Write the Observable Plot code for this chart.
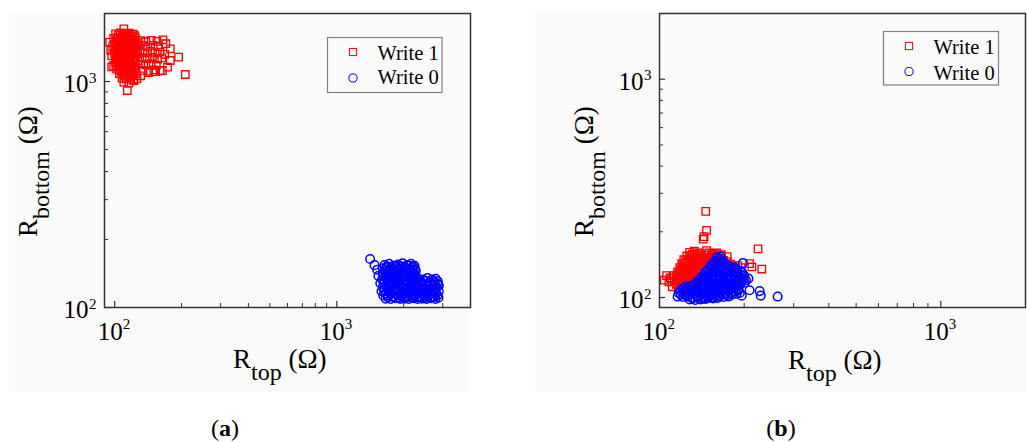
<!DOCTYPE html>
<html>
<head>
<meta charset="utf-8">
<script src="https://cdn.jsdelivr.net/npm/d3@7"></script>
<script src="https://cdn.jsdelivr.net/npm/@observablehq/plot@0.6"></script>
<style>
  html, body { margin: 0; padding: 0; background: #fff; }
  #fig { position: relative; width: 1027px; height: 443px; overflow: hidden; }
  .panel { position: absolute; background: #fafafa; }
  .plot { position: absolute; top: 0; }
  #overlay { position: absolute; left: 0; top: 0; }
  #overlay text { white-space: pre; }
</style>
</head>
<body>
<div id="fig">
  <div class="panel" style="left:9px;top:14px;width:459px;height:378px"></div>
  <div class="panel" style="left:535px;top:12px;width:492px;height:380px"></div>
  <div id="plotA" class="plot" style="left:0px"></div>
  <div id="plotB" class="plot" style="left:514px"></div>
  <svg id="overlay" width="1027" height="443"></svg>
</div>
<script>
// Series names, colours and tick labels
const seriesNames = ["Write 1", "Write 0"];
const seriesColors = ["#ff0000", "#0000ff"];
const majorTicks = [100, 1000];
const tickExponents = ["2", "3"];
const minorTicksA_x = [200, 300, 400, 500, 600, 700, 800, 900, 2000, 3000];
const minorTicksA_y = [200, 300, 400, 500, 600, 700, 800, 900];
const minorTicksB_x = [200, 300, 400, 500, 600, 700, 800, 900];
const minorTicksB_y = [200, 300, 400, 500, 600, 700, 800, 900];

// (a) Write 1 : [R_top, R_bottom] in ohms
const write1A = [
  [101,1625],[106,1640],[111,1618],[116,1636],[121,1622],
  [104,1598],[109,1590],[114,1602],[119,1585],[123,1595],
  [99,1552],[103,1565],[108,1550],[113,1570],[118,1548],[124,1560],
  [102,1528],[107,1520],[112,1535],[117,1515],[122,1525],
  [101,1495],[106,1480],[111,1500],[116,1478],[121,1492],[127,1485],
  [100,1458],[105,1462],[110,1450],[115,1465],[120,1455],[125,1460],
  [98,1428],[103,1415],[108,1432],[113,1410],[118,1425],[124,1418],
  [102,1392],[107,1385],[112,1398],[117,1380],[122,1390],
  [101,1362],[106,1350],[111,1368],[116,1345],[121,1360],[127,1352],
  [100,1330],[105,1325],[110,1335],[115,1320],[120,1330],[125,1322],
  [97,1300],[103,1290],[108,1305],[113,1288],[118,1298],[124,1292],
  [102,1268],[107,1262],[112,1272],[117,1258],[122,1266],
  [101,1242],[106,1230],[111,1248],[116,1226],[121,1240],[127,1235],
  [101,1210],[106,1205],[111,1215],[116,1200],[121,1210],
  [99,1178],[104,1190],[109,1175],[114,1188],[119,1172],[124,1185],
  [104,1158],[109,1150],[114,1162],[119,1148],[124,1155],
  [102,1135],[107,1122],[112,1140],[117,1125],[122,1132],
  [107,1108],[112,1100],[117,1110],[122,1098],
  [105,1085],[110,1072],[115,1088],[120,1075],[125,1082],
  [111,1056],[116,1050],[120,1060],
  [108,1035],[113,1025],[118,1038],[122,1020],
  [131,1515],[138,1500],[146,1522],[155,1505],
  [134,1440],[141,1420],[149,1445],[157,1425],
  [130,1365],[137,1340],[145,1360],[152,1335],[160,1350],
  [133,1275],[140,1262],[148,1280],[156,1258],[163,1272],
  [131,1195],[138,1185],[146,1200],[154,1180],
  [134,1120],[142,1110],[150,1125],[160,1115],
  [110,1710],[95,1495],[96,1375],[97,1160],[178,1396],[194,1282],[208,1074],
  [178,1239],[173,1157],[164,1119],[114,912],[110,993],[116,983],[126,1028],
  [122,1009],[131,1060],[142,1095],[153,1105],[168,1320],[170,1470],[165,1530]
];

// (a) Write 0
const write0A = [
  [1640,154],[1720,156],[1800,153],[1890,155],[1980,157],[2070,154],[2160,156],[2240,153],
  [1680,152],[1760,151],[1845,153],[1935,152],[2025,151],[2115,153],[2200,152],
  [1610,149],[1680,150],[1765,148],[1850,151],[1935,149],[2030,150],[2120,148],[2210,151],
  [1640,146.5],[1725,147],[1810,146],[1895,147.5],[1985,146.5],[2075,147],[2165,146],[2250,147.5],
  [1650,144],[1730,145],[1810,143],[1900,145],[1990,144],[2080,146],[2170,143],[2270,145],
  [1610,141.5],[1690,142],[1775,141],[1860,142],[1950,141.5],[2040,142.5],[2130,141],[2220,142],
  [1620,139],[1700,138],[1785,140],[1870,138],[1960,139],[2050,140],[2140,138],[2230,139],
  [1650,136],[1735,136.5],[1820,135.5],[1905,136],[1995,137],[2090,136],[2180,135.5],[2280,136],
  [1600,133],[1690,134],[1770,132],[1860,134],[1945,133],[2035,132],[2130,134],[2220,133],
  [2330,134],[2450,133],[2560,135],[2680,133],[2790,134],
  [1640,130.5],[1725,131],[1815,130],[1905,131],[1995,130.5],[2085,131],[2180,130],[2280,131],
  [2390,130.5],[2510,131],[2620,130],[2740,131],[2850,130.5],
  [1630,128],[1715,127],[1800,129],[1890,127],[1980,128],[2070,129],[2170,127],[2270,128],
  [2380,129],[2500,127],[2620,128],[2740,129],[2860,127],
  [1660,125.5],[1740,125],[1830,126],[1920,125],[2010,125.5],[2100,126],[2200,125],[2300,125.5],
  [2410,126],[2530,125],[2650,125.5],[2770,126],[2880,125],
  [1610,123],[1690,122],[1780,124],[1865,122],[1955,123],[2045,122],[2140,124],[2240,122],
  [2340,123],[2450,122],[2570,124],[2690,122],[2810,123],
  [1640,120.5],[1730,120],[1820,121],[1910,120],[2000,120.5],[2100,121],[2200,120],[2310,120.5],
  [2420,121],[2540,120],[2660,120.5],[2790,121],
  [1640,118],[1720,117],[1810,118],[1900,117],[1990,118],[2085,117],[2180,118],[2290,117],
  [2400,118],[2520,117],[2630,118],[2750,117],[2880,118],
  [1660,115.5],[1750,115],[1840,116],[1930,115],[2020,115.5],[2120,116],[2220,115],[2320,115.5],
  [2430,116],[2550,115],[2670,115.5],[2800,116],
  [1620,113],[1700,113],[1790,112],[1880,113],[1970,113],[2060,112],[2160,113],[2260,113],
  [2360,112],[2470,113],[2590,113],[2710,112],[2840,113],
  [1700,111],[1800,111.5],[1900,110.5],[1990,111],[2090,111.5],[2190,110.5],[2290,111],
  [2400,111.5],[2520,110.5],[2630,111],[2750,111.5],[2870,110.5],
  [1660,109.5],[1750,109],[1840,110],[1930,109],[2020,109.5],[2110,109],[2210,110],[2310,109],
  [2420,109.5],[2540,109],[2660,110],[2780,109],
  [1413,164],[1480,154],[1520,147],[1540,138],[1570,128],[1590,118]
];

// (b) Write 1
const write1B = [
  [106,126],[112,126],[108,118],[111,112],[115,115],[104,120],[109,123],[110,122],[113,119],
  [128,161],[133,163],[138,160],
  [131,158],[136,157],
  [125,155],[130,156],[135,154],[140,156],
  [128,152],[133,153],[138,152],
  [122,149],[127,150],[132,148],[137,149],[141,150],
  [124,146],[129,147],[134,146],[139,147],
  [120,143],[124,144],[129,142],[134,143],[139,144],
  [121,140],[126,140],[131,139],[136,141],
  [118,137],[122,136],[127,138],[132,137],[137,136],[141,137],
  [119,134],[123,134],[128,135],[133,134],[138,133],
  [116,131],[121,132],[125,130],[130,131],[135,132],[140,130],
  [117,128.5],[122,128],[127,129],[131,128],[136,129],
  [115,126],[119,125],[124,127],[128,125],[133,126],[138,125],
  [117,123],[122,123.5],[127,122.5],[131,123],[136,122.5],
  [116,120],[120,121],[125,119],[129,121],[134,120],[139,119],
  [117,118],[122,117.5],[126,118],[131,117],
  [115,115],[119,116],[124,114],[128,116],[133,115],
  [119,113],[124,113],[129,112.5],
  [117,111],[122,111],[127,110],
  [145,159],[150,160],[155,158],[160,160],[166,157],
  [148,156],[153,155],[158,156],[163,155],
  [144,152],[149,151],[154,153],[159,152],[165,151],[174,154],
  [147,149],[152,149],[157,150],[163,149],[169,148],
  [146,146],[151,145],[157,147],[162,146],[168,145],[174,146],
  [149,143],[155,143.5],[161,143],[167,142.5],[173,143],[179,142],
  [152,140],[158,139],[164,141],[170,140],[176,139],[182,140],
  [160,134],[167,133],[174,135],[181,137],[183,135],
  [146,248],[147,203],[144,190],[143,185],[147,164],[143,151],
  [224,167],[213,138],[231,135],[209,143],[195,137],[190,140]
];

// (b) Write 0
const write0B = [
  [160,153],[165,154],
  [163,150.5],
  [157,147],[162,148],[168,146],
  [158,144],[164,144.5],[170,143.5],
  [153,141],[158,142],[164,140],[170,141],[176,140],
  [152,138],[158,138.5],[164,137.5],[170,138],[177,138.5],[184,137.5],
  [149,135],[155,136],[161,134],[167,135],[173,136],[180,134],[187,135],
  [148,132.5],[154,132],[160,133],[166,132.5],[173,132],[180,133],[187,132.5],[194,132],
  [145,130],[151,129],[157,131],[163,130],[170,129],[177,131],[184,130],[191,129],[197,130],
  [144,127],[150,127.5],[156,126.5],[162,127],[169,127.5],[176,126.5],[183,127],[190,127.5],[197,126.5],
  [141,124],[147,125],[153,123],[159,124],[166,125],[173,123],[180,124],[187,125],[194,123],[200,126],
  [140,121.5],[146,122],[152,121],[158,121.5],[165,122],[172,121],[179,121.5],[186,122],[193,121],[199,122],
  [137,119],[143,120],[149,118],[155,119],[162,120],[169,118],[176,119],[183,120],[190,118],[196,119],[203,120],
  [135,116.5],[141,117],[147,116],[153,116.5],[160,117],[167,116],[174,116.5],[181,117],[188,116],[195,116.5],
  [132,114],[138,115],[144,113],[150,114],[157,115],[163,113],[170,114],[177,115],[185,113],[192,114],
  [124,112],[129,112.5],[134,111.5],[140,112],[146,112.5],[152,111.5],[159,112],[166,112.5],[173,111.5],[180,112],[188,112.5],
  [121,110],[126,109],[131,110],[137,109],[143,110],[149,109],[155,110],[162,109],[169,110],[176,109],[184,110],[191,109],
  [119,107.5],[124,107],[129,108],[135,107.5],[141,107],[147,108],[154,107.5],[161,107],[168,108],[175,107.5],[183,107],[190,107.5],
  [117,105],[122,104],[127,105],[133,104],[139,105],[145,104],[151,105],[158,104],[165,105],[172,104],[180,105],[188,104],
  [119,103],[124,102.5],[129,103],[135,102.5],[141,103],[147,102.5],[153,103],[160,102.5],[167,103],[174,102.5],[181,103],
  [116,101],[121,100.5],[126,101],[131,100],[137,101],[143,100.5],[149,101],[155,100],[162,101],[169,100.5],[176,101],
  [131,99],[137,99.5],[143,99],[149,99.5],[155,99],[161,99.5],
  [128,98],[134,97.5],[140,98],[146,98.5],
  [198,144],[207,122],[209,108],[227,107],[229,102],[263,101],[193,105],[196,102],[190,127],[201,117]
];

const serif = "'Liberation Serif', 'Times New Roman', serif";
const axisColor = "#333";

function scatterPanel({w1, w0, xDomain, yDomain, marginLeft, marginRight, xMinor, yMinor}) {
  const W = 513, H = 400, mTop = 13, mBottom = 93;
  const fw = W - marginLeft - marginRight, fh = H - mTop - mBottom;
  return Plot.plot({
    width: W, height: H,
    marginLeft, marginRight, marginTop: mTop, marginBottom: mBottom,
    style: {background: "transparent", overflow: "visible"},
    x: {type: "log", domain: xDomain, axis: null},
    y: {type: "log", domain: yDomain, axis: null},
    marks: [
      Plot.dot(w1, {x: d => d[0], y: d => d[1], symbol: "square", r: 4.2,
        stroke: seriesColors[0], strokeWidth: 1.35, fill: "none"}),
      Plot.dot(w0, {x: d => d[0], y: d => d[1], symbol: "circle", r: 4.3,
        stroke: seriesColors[1], strokeWidth: 1.5, fill: "none"}),
      // inward ticks along bottom and left edges
      Plot.ruleX(xMinor, {x: d => d, insetTop: fh - 4, stroke: axisColor, strokeWidth: 1}),
      Plot.ruleX(majorTicks, {x: d => d, insetTop: fh - 6, stroke: axisColor, strokeWidth: 1.2}),
      Plot.ruleY(yMinor, {y: d => d, insetRight: fw - 4, stroke: axisColor, strokeWidth: 1}),
      Plot.ruleY(majorTicks, {y: d => d, insetRight: fw - 6, stroke: axisColor, strokeWidth: 1.2}),
      Plot.frame({stroke: axisColor, strokeWidth: 1.5}),
      // x tick labels 10^n
      Plot.text(majorTicks, {x: d => d, frameAnchor: "bottom", text: () => "10",
        dx: -4.5, dy: 32, lineAnchor: "bottom", fontSize: 25, fontFamily: serif, fill: "#000"}),
      Plot.text(majorTicks, {x: d => d, frameAnchor: "bottom", text: (d, i) => tickExponents[i],
        textAnchor: "start", dx: 8, dy: 21.5, lineAnchor: "bottom", fontSize: 15, fontFamily: serif, fill: "#000"}),
      // y tick labels 10^n
      Plot.text(majorTicks, {y: d => d, frameAnchor: "left", text: () => "10",
        textAnchor: "end", dx: -16, dy: 10.7, lineAnchor: "bottom", fontSize: 25, fontFamily: serif, fill: "#000"}),
      Plot.text(majorTicks, {y: d => d, frameAnchor: "left", text: (d, i) => tickExponents[i],
        textAnchor: "start", dx: -15.5, dy: 1, lineAnchor: "bottom", fontSize: 15, fontFamily: serif, fill: "#000"})
    ]
  });
}

document.getElementById("plotA").append(scatterPanel({
  w1: write1A, w0: write0A, xDomain: [90, 4000], yDomain: [100, 2000],
  marginLeft: 104, marginRight: 43, xMinor: minorTicksA_x, yMinor: minorTicksA_y
}));
document.getElementById("plotB").append(scatterPanel({
  w1: write1B, w0: write0B, xDomain: [100, 2000], yDomain: [90, 2000],
  marginLeft: 145, marginRight: 2, xMinor: minorTicksB_x, yMinor: minorTicksB_y
}));

// Axis titles, legends and panel captions
const overlay = d3.select("#overlay");

function axisTitle(x, y, sub, rotate) {
  const t = overlay.append("text")
    .attr("x", x).attr("y", y)
    .attr("font-family", serif).attr("font-size", 27).attr("fill", "#000");
  if (rotate) t.attr("transform", `rotate(-90 ${x} ${y})`);
  t.append("tspan").text("R");
  t.append("tspan").attr("font-size", 24).attr("dy", 12).text(sub);
  t.append("tspan").attr("dy", -12).text(" (\u03A9)");
}
axisTitle(233, 368, "top", false);
axisTitle(37, 237, "bottom", true);
axisTitle(788, 369, "top", false);
axisTitle(593, 237, "bottom", true);

function legendBox(x0, y0, w, h, mx, my1, my2, tx, b1, b2) {
  const g = overlay.append("g");
  g.append("rect").attr("x", x0).attr("y", y0).attr("width", w).attr("height", h)
    .attr("fill", "none").attr("stroke", "#808080").attr("stroke-width", 1.2);
  g.append("rect").attr("x", mx - 3.6).attr("y", my1 - 3.6).attr("width", 7.2).attr("height", 7.2)
    .attr("fill", "none").attr("stroke", seriesColors[0]).attr("stroke-width", 1);
  g.append("circle").attr("cx", mx).attr("cy", my2).attr("r", 4.1)
    .attr("fill", "none").attr("stroke", seriesColors[1]).attr("stroke-width", 1);
  g.append("text").attr("x", tx).attr("y", b1).attr("font-family", serif).attr("font-size", 20.5)
    .attr("fill", "#000").text(seriesNames[0]);
  g.append("text").attr("x", tx).attr("y", b2).attr("font-family", serif).attr("font-size", 20.5)
    .attr("fill", "#000").text(seriesNames[1]);
}
legendBox(327.5, 37.5, 114.5, 55, 353, 52, 78, 377.5, 60, 84);
legendBox(883.5, 31.5, 115, 53.5, 909, 46, 71.5, 933.5, 53.5, 79.5);

function caption(x, letter) {
  const t = overlay.append("text").attr("x", x).attr("y", 436)
    .attr("text-anchor", "middle").attr("font-family", serif).attr("font-size", 24).attr("fill", "#000");
  t.append("tspan").text("(");
  t.append("tspan").attr("font-weight", "bold").text(letter);
  t.append("tspan").text(")");
}
caption(225, "a");
caption(781, "b");
</script>
</body>
</html>
